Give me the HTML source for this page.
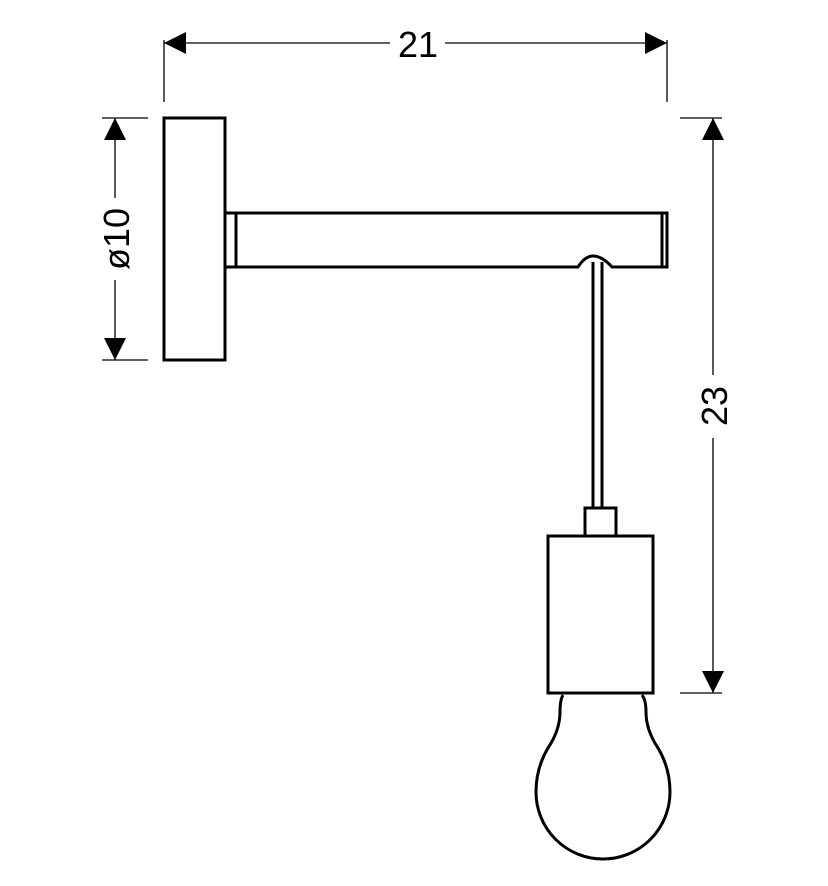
<!DOCTYPE html>
<html><head><style>html,body{margin:0;padding:0;background:#fff}svg{display:block}</style></head>
<body>
<svg width="828" height="886" viewBox="0 0 828 886" xmlns="http://www.w3.org/2000/svg">
<g stroke="#000" fill="none">
<!-- dimension lines -->
<g stroke-width="1.3">
<line x1="164" y1="43" x2="390" y2="43"/><line x1="445" y1="43" x2="667" y2="43"/>
<line x1="164" y1="40" x2="164" y2="102"/><line x1="667" y1="40" x2="667" y2="102"/>
<line x1="115" y1="118" x2="115" y2="198"/><line x1="115" y1="280" x2="115" y2="360"/>
<line x1="102" y1="118" x2="148" y2="118"/><line x1="102" y1="360" x2="148" y2="360"/>
<line x1="713" y1="118" x2="713" y2="375"/><line x1="713" y1="438" x2="713" y2="693"/>
<line x1="680" y1="118" x2="722" y2="118"/><line x1="680" y1="693" x2="722" y2="693"/>
</g>
<g fill="#000" stroke="none">
<polygon points="164,43 186,32 186,54"/><polygon points="667,43 645,32 645,54"/>
<polygon points="115,118 104,140 126,140"/><polygon points="115,360 104,338 126,338"/>
<polygon points="713,118 702,140 724,140"/><polygon points="713,693 702,671 724,671"/>
</g>
<!-- lamp -->
<g stroke-width="3">
<rect x="164" y="118" width="61" height="242"/>
<path d="M225,213 H667 V267 H612 Q602,256 593,256 Q585,256 578,267 H225"/>
<line x1="236" y1="213" x2="236" y2="267"/>
<line x1="662" y1="213" x2="662" y2="267"/>
<line x1="593" y1="262" x2="593" y2="508"/><line x1="602" y1="262" x2="602" y2="508"/>
<rect x="585" y="508" width="31" height="28"/>
<rect x="548" y="536" width="105" height="157"/>
<path d="M563,695 Q560,700 560,712 Q560,730 548,748 Q536,768 536,792 A67,67 0 0 0 670,792 Q670,768 658,748 Q646,730 646,712 Q646,700 642,695"/>
</g>
</g>
<g font-family="Liberation Sans, sans-serif" font-size="36" fill="#000">
<text x="418" y="57" text-anchor="middle">21</text>
<text transform="translate(129,239) rotate(-90)" text-anchor="middle">ø10</text>
<text transform="translate(727,406) rotate(-90)" text-anchor="middle">23</text>
</g>
</svg>
</body></html>
